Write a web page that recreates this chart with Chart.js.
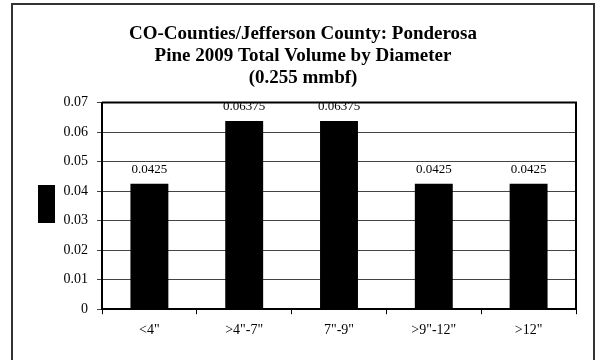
<!DOCTYPE html>
<html>
<head>
<meta charset="utf-8">
<script src="https://cdn.jsdelivr.net/npm/chart.js@4.4.1/dist/chart.umd.min.js"></script>
<style>
  body { margin: 0; background: #fff; }
  #frame { position: absolute; left: 11px; top: 3px; width: 580px; height: 360px;
           border: 2px solid #333; border-bottom: none; }
  #wrap { position: absolute; left: 0; top: 0; width: 580px; height: 357px; }
</style>
</head>
<body>
<div id="frame"><div id="wrap"><canvas id="mycanvas"></canvas></div></div>
<script>
// chart data
var titleLines = ['CO-Counties/Jefferson County: Ponderosa', 'Pine 2009 Total Volume by Diameter', '(0.255 mmbf)'];
var diameters = ['<4"', '>4"-7"', '7"-9"', '>9"-12"', '>12"'];
var volume = [0.0425, 0.06375, 0.06375, 0.0425, 0.0425];
var yTicks = [0, 0.01, 0.02, 0.03, 0.04, 0.05, 0.06, 0.07];

var serif = 'Liberation Serif, Times New Roman, serif';

// value labels above each bar
var valueLabels = {
  id: 'valueLabels',
  afterDatasetsDraw: function(chart){
    var ctx = chart.ctx;
    var meta = chart.getDatasetMeta(0);
    ctx.save();
    ctx.font = '13px ' + serif;
    ctx.fillStyle = '#000';
    ctx.textAlign = 'center';
    ctx.textBaseline = 'middle';
    meta.data.forEach(function(bar, i){
      ctx.fillText(String(volume[i]), bar.x, bar.y - 14);
    });
    ctx.restore();
  }
};

// plot border + the little legend swatch
var plotBox = {
  id: 'plotBox',
  afterDraw: function(chart){
    var a = chart.chartArea, ctx = chart.ctx;
    ctx.save();
    ctx.strokeStyle = '#000';
    ctx.lineWidth = 2;
    ctx.beginPath();
    ctx.moveTo(a.left, a.top);
    ctx.lineTo(a.right, a.top);
    ctx.lineTo(a.right, a.bottom);
    ctx.stroke();
    ctx.fillStyle = chart.data.datasets[0].backgroundColor;
    ctx.fillRect(25, 180, 17, 38);
    ctx.restore();
  }
};

var ctx = document.getElementById('mycanvas');
var barGraph = new Chart(ctx, {
  type: 'bar',
  data: {
    labels: diameters,
    datasets: [{
      label: 'Volume',
      data: volume,
      backgroundColor: '#000',
      borderWidth: 0,
      barPercentage: 0.4,
      categoryPercentage: 1
    }]
  },
  options: {
    responsive: true,
    maintainAspectRatio: false,
    animation: false,
    layout: { padding: { left: 17, right: 17, top: 0, bottom: 15 } },
    plugins: {
      legend: { display: false },
      tooltip: { enabled: false },
      title: {
        display: true,
        text: titleLines,
        color: '#000',
        font: { family: serif, size: 19, weight: 'bold', lineHeight: 1.15 },
        padding: { top: 18, bottom: 14 }
      }
    },
    scales: {
      x: {
        grid: { display: true, drawOnChartArea: false, color: '#000', tickLength: 5, lineWidth: 1 },
        border: { color: '#000', width: 2 },
        ticks: { color: '#000', font: { family: serif, size: 14 }, padding: 8, maxRotation: 0 }
      },
      y: {
        min: 0,
        max: 0.07,
        afterBuildTicks: function(scale){
          scale.ticks = yTicks.map(function(v){ return { value: v }; });
        },
        afterFit: function(scale){ scale.width = 72; },
        grid: { color: '#444', tickLength: 5, lineWidth: 1 },
        border: { color: '#000', width: 2 },
        ticks: {
          color: '#000',
          font: { family: serif, size: 14 },
          padding: 9,
          callback: function(v){ return String(v); }
        }
      }
    }
  },
  plugins: [valueLabels, plotBox]
});
</script>
</body>
</html>
